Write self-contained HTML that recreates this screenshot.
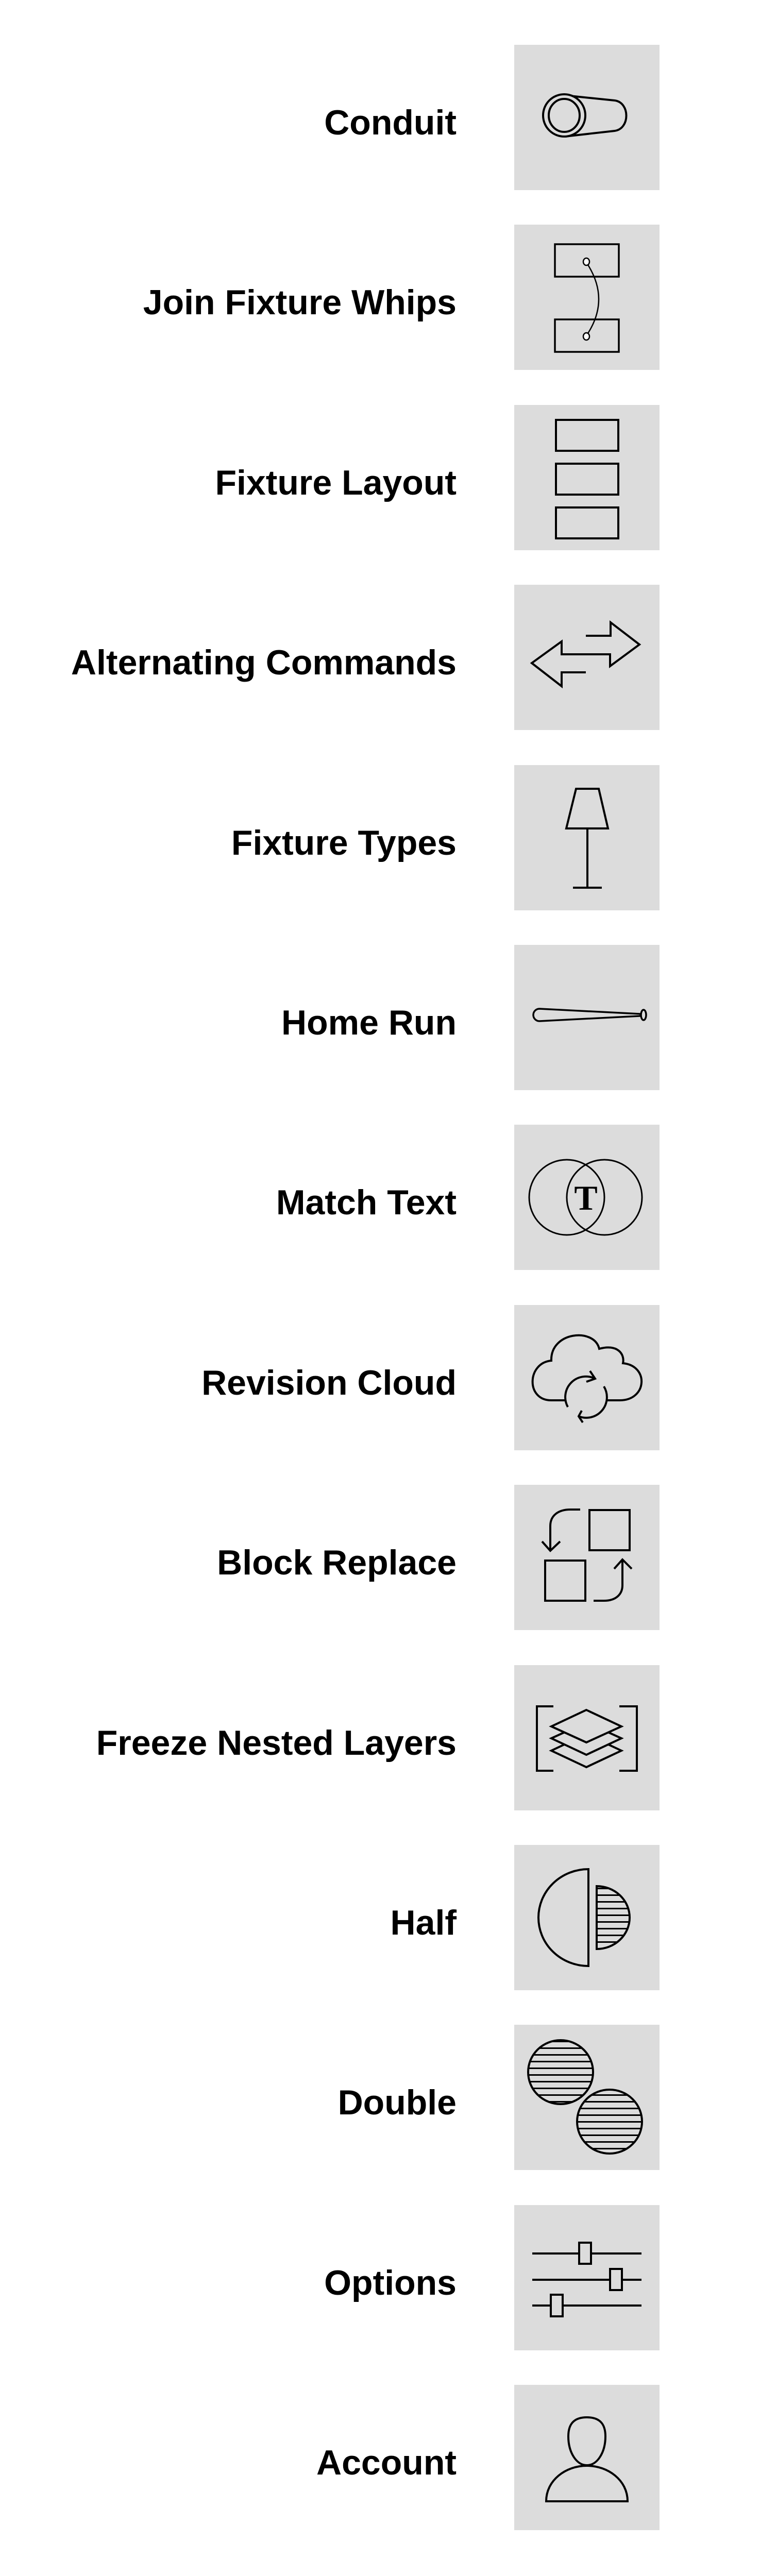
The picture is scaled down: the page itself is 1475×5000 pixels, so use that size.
<!DOCTYPE html>
<html><head><meta charset="utf-8"><style>
html,body{margin:0;padding:0;background:#fff;}
svg{display:block}
text.l{font-family:"Liberation Sans",Arial,sans-serif;font-weight:bold;font-size:68px;fill:#000;text-anchor:end}
.s{fill:none;stroke:#000;stroke-width:4}
</style></head><body>
<svg width="1475" height="5000" viewBox="0 0 1475 5000" xmlns="http://www.w3.org/2000/svg">
<defs>
<pattern id="h" width="10" height="13" patternUnits="userSpaceOnUse"><rect x="0" y="5" width="10" height="3" fill="#000"/></pattern>
</defs>
<g fill="#dcdcdc">
<rect x="998" y="87" width="282" height="282"/>
<rect x="998" y="436" width="282" height="282"/>
<rect x="998" y="786" width="282" height="282"/>
<rect x="998" y="1135" width="282" height="282"/>
<rect x="998" y="1485" width="282" height="282"/>
<rect x="998" y="1834" width="282" height="282"/>
<rect x="998" y="2183" width="282" height="282"/>
<rect x="998" y="2533" width="282" height="282"/>
<rect x="998" y="2882" width="282" height="282"/>
<rect x="998" y="3232" width="282" height="282"/>
<rect x="998" y="3581" width="282" height="282"/>
<rect x="998" y="3930" width="282" height="282"/>
<rect x="998" y="4280" width="282" height="282"/>
<rect x="998" y="4629" width="282" height="282"/>
</g>
<text class="l" x="886" y="261">Conduit</text>
<text class="l" x="886" y="610">Join Fixture Whips</text>
<text class="l" x="886" y="960">Fixture Layout</text>
<text class="l" x="886" y="1309">Alternating Commands</text>
<text class="l" x="886" y="1659">Fixture Types</text>
<text class="l" x="886" y="2008">Home Run</text>
<text class="l" x="886" y="2357">Match Text</text>
<text class="l" x="886" y="2707">Revision Cloud</text>
<text class="l" x="886" y="3056">Block Replace</text>
<text class="l" x="886" y="3406">Freeze Nested Layers</text>
<text class="l" x="886" y="3755">Half</text>
<text class="l" x="886" y="4104">Double</text>
<text class="l" x="886" y="4454">Options</text>
<text class="l" x="886" y="4803">Account</text>

<!-- Conduit -->
<g transform="translate(998,87)" class="s">
<path d="M98,98 L195,108 C225,112 225,163 195,167 L98,178" stroke-width="4"/>
<ellipse cx="97" cy="137" rx="41" ry="41" fill="#dcdcdc"/>
<ellipse cx="97" cy="137" rx="30" ry="32"/>
</g>
<!-- Join Fixture Whips -->
<g transform="translate(998,436)" class="s">
<rect x="79" y="38" width="124" height="63" stroke-width="3.5"/>
<rect x="79" y="184" width="124" height="63" stroke-width="3.5"/>
<path d="M143,78 Q185,145 143,211" stroke-width="2.5"/>
<ellipse cx="140" cy="72" rx="6" ry="7" fill="#fff" stroke-width="2.5"/>
<ellipse cx="140" cy="217" rx="6" ry="7" fill="#fff" stroke-width="2.5"/>
</g>
<!-- Fixture Layout -->
<g transform="translate(998,786)" class="s">
<rect x="81" y="29" width="121" height="60"/>
<rect x="81" y="114" width="121" height="60"/>
<rect x="81" y="199" width="121" height="60"/>
</g>
<!-- Alternating -->
<g transform="translate(998,1135)" class="s">
<path d="M139,99 L187,99 L187,73 L243,116 L186,158 L186,135 L92,135 L92,110 L34,152 L92,197 L92,170 L139,170"/>
</g>
<!-- Fixture Types -->
<g transform="translate(998,1485)" class="s">
<path d="M120,46 L164,46 L182,123 L101,123 Z"/>
<path d="M142,123 L142,238 M114,238 L170,238"/>
</g>
<!-- Home Run -->
<g transform="translate(998,1834)" class="s">
<path d="M49,124 L245,134 L245,138 L49,148 A12,12 0 0 1 49,124 Z" stroke-width="3.5"/>
<ellipse cx="251" cy="136" rx="5" ry="10" fill="#dcdcdc" stroke-width="3.5"/>
</g>
<!-- Match Text -->
<g transform="translate(998,2183)" class="s">
<circle cx="102" cy="141" r="73" stroke-width="3"/>
<circle cx="175" cy="141" r="73" stroke-width="3"/>
<text x="139" y="165" font-family="Liberation Serif,serif" font-weight="bold" font-size="68" text-anchor="middle" fill="#000" stroke="none">T</text>
</g>
<!-- Revision Cloud -->
<g transform="translate(998,2533)" class="s" stroke-width="3">
<path d="M99,185 L72,185 C22,185 25,112 72,108 C70,52 155,43 165,85 C200,75 215,95 211,113 C262,118 258,185 205,185 L179,185"/>
<path d="M104,198 A40,40 0 0 1 157,143 M147,128 L157,143 L140,149"/>
<path d="M174,158 A40,40 0 0 1 125,216 M131,205 L125,216 L133,228"/>
</g>
<!-- Block Replace -->
<g transform="translate(998,2882)" class="s">
<rect x="146" y="49" width="78" height="78"/>
<rect x="60" y="147" width="78" height="78"/>
<path d="M128,48 L109,48 C85,48 70,60 70,80 L70,128 M54,110 L70,128 L89,110"/>
<path d="M154,225 L174,225 C198,225 210,212 210,195 L210,145 M194,163 L210,145 L228,163"/>
</g>
<!-- Freeze Nested Layers -->
<g transform="translate(998,3232)" class="s" stroke-width="3.5">
<path d="M76,80 L44,80 L44,205 L76,205 M204,80 L238,80 L238,205 L204,205"/>
<path d="M140,134 L208,166 L140,198 L72,166 Z" fill="#dcdcdc"/>
<path d="M140,111 L208,142 L140,174 L72,142 Z" fill="#dcdcdc"/>
<path d="M140,87 L208,119 L140,150 L72,119 Z" fill="#dcdcdc"/>
</g>
<!-- Half -->
<g transform="translate(998,3581)" class="s" stroke-width="3.5">
<path d="M144,47 A97,94 0 0 0 144,235 Z"/>
<path d="M160,80 A64,61 0 0 1 160,202 Z" fill="url(#h)"/>
</g>
<!-- Double -->
<g transform="translate(998,3930)" class="s" stroke-width="3.5">
<ellipse cx="90" cy="92" rx="63" ry="62" fill="url(#h)"/>
<ellipse cx="185" cy="188" rx="63" ry="62" fill="url(#h)"/>
</g>
<!-- Options -->
<g transform="translate(998,4280)" class="s" stroke-width="3.5">
<path d="M35,94 L247,94 M35,145 L247,145 M35,195 L247,195"/>
<rect x="126" y="73" width="23" height="41" fill="#dcdcdc"/>
<rect x="186" y="124" width="23" height="41" fill="#dcdcdc"/>
<rect x="71" y="174" width="23" height="42" fill="#dcdcdc"/>
</g>
<!-- Account -->
<g transform="translate(998,4629)" class="s" stroke-width="3.5">
<path d="M141,63 C168,63 177,78 177,100 C177,130 162,156 141,156 C120,156 105,130 105,100 C105,78 114,63 141,63 Z"/>
<path d="M62,226 C62,185 100,157 141,157 C182,157 220,185 220,226 Z"/>
</g>
</svg>
</body></html>
